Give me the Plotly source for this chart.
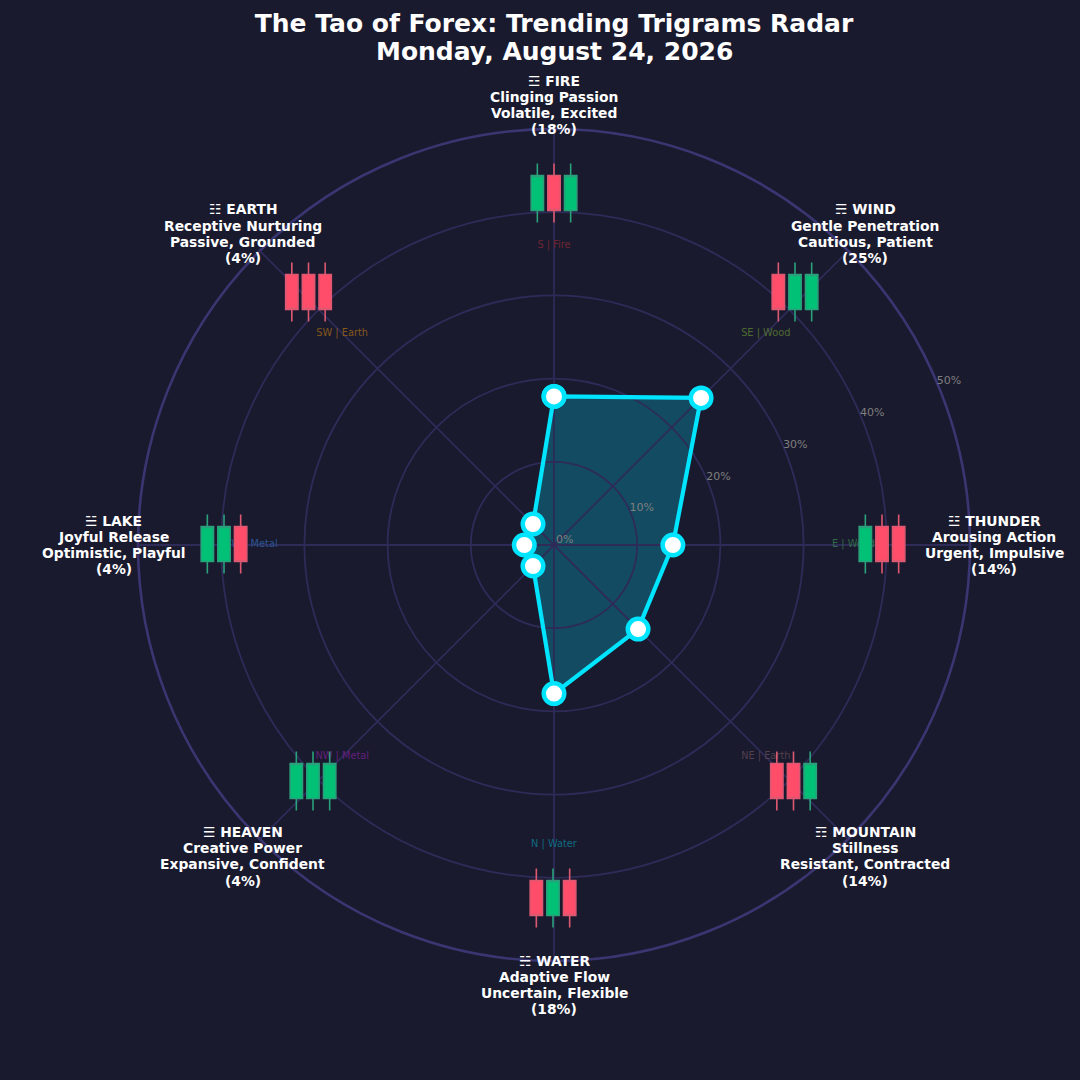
import math
import plotly.graph_objects as go

# ---- data ----
trigrams = ["FIRE", "WIND", "THUNDER", "MOUNTAIN", "WATER", "HEAVEN", "LAKE", "EARTH"]
symbols = ["☲", "☴", "☳", "☶", "☵", "☰", "☱", "☷"]
angles = [90, 45, 0, -45, -90, -135, 180, 135]
shares = [17.86, 25.0, 14.29, 14.29, 17.86, 3.57, 3.57, 3.57]
share_labels = ["18%", "25%", "14%", "14%", "18%", "4%", "4%", "4%"]
qualities = ["Clinging Passion", "Gentle Penetration", "Arousing Action", "Stillness",
             "Adaptive Flow", "Creative Power", "Joyful Release", "Receptive Nurturing"]
moods = ["Volatile, Excited", "Cautious, Patient", "Urgent, Impulsive", "Resistant, Contracted",
         "Uncertain, Flexible", "Expansive, Confident", "Optimistic, Playful", "Passive, Grounded"]
directions = ["S | Fire", "SE | Wood", "E | Wood", "NE | Earth",
              "N | Water", "NW | Metal", "W | Metal", "SW | Earth"]
candle_open = [[0, 1, 0], [1, 0, 0], [0, 1, 1], [1, 1, 0],
               [1, 0, 1], [0, 0, 0], [0, 0, 1], [1, 1, 1]]
candle_close = [[1, 0, 1], [0, 1, 1], [1, 0, 0], [0, 0, 1],
                [0, 1, 0], [1, 1, 1], [1, 1, 0], [0, 0, 0]]
candle_high = [1.34, 1.34, 1.34]
candle_low = [-0.34, -0.34, -0.34]
radial_ticks = [0, 10, 20, 30, 40, 50]
title_lines = ["The Tao of Forex: Trending Trigrams Radar", "Monday, August 24, 2026"]

# ---- layout constants ----
W = 1080
CX, CY = 554, 545
PX = 8.32  # pixels per percentage point
BG = "#1a1a2e"
GRID = "#2e2b58"
SPINE = "#3a3672"
direction_colors = ["#6f2632", "#4f6b30", "#2f6b48", "#54404c",
                    "#0f6a80", "#641f7c", "#2a5590", "#85581c"]
candle_centres = [(554, 193), (795, 292), (882, 544), (793.5, 781),
                  (553, 898), (313, 781), (224, 544), (308.5, 292)]
CANDLE_W, CANDLE_H = 50, 70
FONT = "DejaVu Sans"


def polar_xy(r, deg):
    return r * math.cos(math.radians(deg)), r * math.sin(math.radians(deg))


fig = go.Figure()

# base layer: direction labels + radial tick labels
dir_xy = [polar_xy(36, a) for a in angles]
fig.add_trace(go.Scatter(
    x=[p[0] for p in dir_xy], y=[p[1] for p in dir_xy], text=directions,
    mode="text", textposition="middle center", cliponaxis=False, hoverinfo="skip",
    textfont=dict(family=FONT, size=9.8, color=direction_colors), showlegend=False))
tick_xy = [polar_xy(t + 1.4, 22.5) for t in radial_ticks]
fig.add_trace(go.Scatter(
    x=[p[0] for p in tick_xy], y=[p[1] for p in tick_xy],
    text=[f"{t}%" for t in radial_ticks],
    mode="text", textposition="middle center", cliponaxis=False, hoverinfo="skip",
    textfont=dict(family=FONT, size=11, color="#7f7f7f"), showlegend=False))

# radar area first, then the grid on top of it; candles and the radar line sit above both
area = [polar_xy(r, a) for r, a in zip(shares, angles)]
shapes = [dict(type="path", xref="x", yref="y", layer="below",
               path="M " + " L ".join(f"{x:.3f} {y:.3f}" for x, y in area) + " Z",
               fillcolor="rgba(0,229,255,0.25)", line=dict(width=0))]
for t in radial_ticks[1:]:
    last = t == radial_ticks[-1]
    shapes.append(dict(type="circle", xref="x", yref="y", x0=-t, x1=t, y0=-t, y1=t,
                       layer="below",
                       line=dict(color=SPINE if last else GRID, width=2.6 if last else 1.8)))
for a in angles:
    ex, ey = polar_xy(radial_ticks[-1], a)
    shapes.append(dict(type="line", xref="x", yref="y", x0=0, y0=0, x1=ex, y1=ey,
                       layer="below", line=dict(color=GRID, width=1.8)))

axes = dict(
    xaxis=dict(domain=[0, 1], range=[-CX / PX, (W - CX) / PX], visible=False, fixedrange=True),
    yaxis=dict(domain=[0, 1], range=[-(W - CY) / PX, CY / PX], visible=False, fixedrange=True),
)

# candlestick insets
for i in range(len(trigrams)):
    n = i + 2
    cx, cy = candle_centres[i]
    fig.add_trace(go.Candlestick(
        x=[0, 1, 2], open=candle_open[i], high=candle_high, low=candle_low, close=candle_close[i],
        xaxis=f"x{n}", yaxis=f"y{n}", showlegend=False, hoverinfo="skip", whiskerwidth=0,
        increasing=dict(fillcolor="#00c176", line=dict(color="#2aa07b", width=1.6)),
        decreasing=dict(fillcolor="#ff4d6a", line=dict(color="#dd5871", width=1.6))))
    axes[f"xaxis{n}"] = dict(domain=[(cx - CANDLE_W / 2) / W, (cx + CANDLE_W / 2) / W],
                             range=[-0.5, 2.5], visible=False, anchor=f"y{n}",
                             rangeslider=dict(visible=False), fixedrange=True)
    axes[f"yaxis{n}"] = dict(domain=[1 - (cy + CANDLE_H / 2) / W, 1 - (cy - CANDLE_H / 2) / W],
                             range=[-0.5, 1.5], visible=False, anchor=f"x{n}", fixedrange=True)

# radar outline and markers
fig.add_trace(go.Scatterpolar(
    r=shares + shares[:1], theta=angles + angles[:1], mode="lines+markers",
    line=dict(color="#00e5ff", width=4.2),
    marker=dict(size=20.5, color="white", line=dict(color="#00e5ff", width=4.5)),
    hoverinfo="skip", showlegend=False, subplot="polar"))

# outer labels, one annotation per line for matplotlib-like line spacing
annotations = []
for i, name in enumerate(trigrams):
    lx, ly = polar_xy(52.9, angles[i])
    lines = [f"{symbols[i]} {name}", qualities[i], moods[i], f"({share_labels[i]})"]
    for j, line in enumerate(lines):
        annotations.append(dict(x=lx, y=ly, xref="x", yref="y", text=line, showarrow=False,
                                xanchor="center", yanchor="middle", yshift=(1.5 - j) * 16.2,
                                font=dict(family=FONT, size=13.85, color="white", weight="bold")))
annotations.append(dict(x=CX / W, y=1 - 51 / W, xref="paper", yref="paper", text=title_lines[1],
                        showarrow=False, xanchor="center", yanchor="middle",
                        font=dict(family=FONT, size=25, color="white", weight="bold")))

fig.update_layout(
    width=W, height=W, autosize=False,
    margin=dict(l=0, r=0, t=0, b=0),
    paper_bgcolor=BG, plot_bgcolor="rgba(0,0,0,0)",
    showlegend=False, shapes=shapes, annotations=annotations, boxgap=0.26, boxgroupgap=0,
    title=dict(text=title_lines[0],
               x=CX / W, xanchor="center", y=1 - 23 / W, yanchor="middle",
               font=dict(family=FONT, size=25, color="white", weight="bold")),
    polar=dict(
        domain=dict(x=[(CX - 416) / W, (CX + 416) / W],
                    y=[1 - (CY + 416) / W, 1 - (CY - 416) / W]),
        bgcolor="rgba(0,0,0,0)",
        radialaxis=dict(range=[0, 50], visible=False),
        angularaxis=dict(visible=False, direction="counterclockwise", rotation=0),
    ),
    **axes,
)

fig.write_html("out.html", config=dict(displayModeBar=False), post_script=
               "document.body.style.margin='0';"
               "document.documentElement.style.overflow='hidden';"
               f"document.body.style.background='{BG}';")
